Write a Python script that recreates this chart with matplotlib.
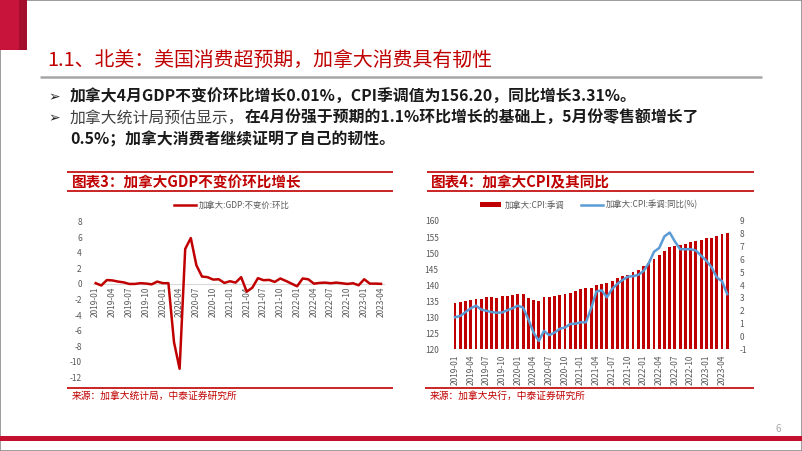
import matplotlib
matplotlib.use("Agg")
import matplotlib.pyplot as plt
from matplotlib.lines import Line2D
from matplotlib.patches import Rectangle

plt.rcParams['font.family'] = ['Noto Sans CJK SC', 'DejaVu Sans']
plt.rcParams['axes.unicode_minus'] = False

# ---------------- data ----------------
months_gdp = [f"{y}-{m:02d}" for y in range(2019, 2024) for m in range(1, 13)][:52]
months_cpi = [f"{y}-{m:02d}" for y in range(2019, 2024) for m in range(1, 13)][:53]
tick_labels = ['2019-01', '2019-04', '2019-07', '2019-10', '2020-01', '2020-04',
               '2020-07', '2020-10', '2021-01', '2021-04', '2021-07', '2021-10',
               '2022-01', '2022-04', '2022-07', '2022-10', '2023-01', '2023-04']

gdp_mom = [0.1, -0.2, 0.5, 0.45, 0.3, 0.2, 0.0, 0.0, 0.1, 0.05, -0.05, 0.3,
           0.1, 0.1, -7.5, -10.9, 4.5, 5.9, 2.4, 0.95, 0.87, 0.56, 0.6, 0.13,
           0.35, 0.17, 0.87, -1.0, -0.48, 0.74, 0.48, 0.52, 0.26, 0.7, 0.39, 0.04,
           -0.3, 0.7, 0.6, 0.04, 0.13, 0.17, 0.09, 0.17, 0.09, 0.0, 0.09, -0.17,
           0.6, 0.04, 0.04, 0.01]

cpi_sa = [134.3, 134.6, 135.1, 135.5, 135.8, 135.8, 136.3, 136.3, 136.1, 136.5, 136.6, 137.0,
          137.2, 137.2, 136.1, 135.4, 135.2, 136.4, 136.4, 136.6, 136.9, 137.2, 137.7, 138.1,
          138.7, 139.0, 139.2, 139.9, 140.3, 140.7, 141.4, 142.3, 142.8, 143.2, 144.0, 144.6,
          146.0, 147.0, 148.2, 149.5, 150.8, 151.9, 152.1, 152.4, 152.8, 153.5, 153.9, 154.0,
          154.6, 154.8, 155.2, 155.8, 156.2]

cpi_yoy = [1.5, 1.6, 1.9, 2.2, 2.4, 2.1, 2.0, 1.9, 1.85, 1.87, 2.05, 2.2,
           2.4, 2.25, 1.35, 0.3, -0.35, 0.43, 0.1, 0.3, 0.6, 0.7, 0.97, 1.0,
           1.1, 1.1, 2.2, 3.5, 3.6, 3.05, 3.7, 4.1, 4.4, 4.66, 4.7, 4.8,
           5.1, 5.7, 6.6, 6.9, 7.8, 8.1, 7.4, 6.8, 6.8, 6.8, 6.7, 6.3,
           5.9, 5.4, 4.6, 4.3, 3.3]

# ---------------- layout helpers ----------------
W, H = 802, 451
fig = plt.figure(figsize=(W / 100, H / 100), dpi=100)

def fx(x):
    return x / W

def fy(y):
    return 1 - y / H

def rect(x0, y0, x1, y1):
    return [fx(x0), fy(y1), (x1 - x0) / W, (y1 - y0) / H]

def hline(x0, x1, y, color, lw):
    fig.add_artist(Line2D([fx(x0), fx(x1)], [fy(y), fy(y)], transform=fig.transFigure,
                          color=color, lw=lw, solid_capstyle='butt'))

RED = '#C00000'
GRAY = '#595959'

# slide frame and decorations
fig.add_artist(Rectangle((0, 0), 1, 1, transform=fig.transFigure, fill=False,
                         ec='#8C8C8C', lw=1.2))
fig.add_artist(Rectangle((0, fy(50)), fx(19), 50 / H, transform=fig.transFigure,
                         color='#C8143A', lw=0))
fig.add_artist(Rectangle((fx(19), fy(50)), fx(8), 50 / H, transform=fig.transFigure,
                         color='#A30F2C', lw=0))
fig.add_artist(Rectangle((0, fy(441)), 1, 5 / H, transform=fig.transFigure,
                         color='#C3102F', lw=0))
fig.text(fx(778), fy(429), '6', color='#A6A6A6', fontsize=7, ha='center', va='center')

# title
fig.text(fx(47), fy(60), '1.1、北美：美国消费超预期，加拿大消费具有韧性', color=RED,
         fontsize=14.3, va='center', ha='left')
hline(40, 762, 77, '#A6A6A6', 1.8)

# bullets
BF = 11.4
for yb in (97, 118):
    fig.text(fx(48), fy(yb), '➢', family=['DejaVu Sans'], fontsize=10, va='center', color='#222222')
fig.text(fx(70), fy(97), '加拿大4月GDP不变价环比增长0.01%，CPI季调值为156.20，同比增长3.31%。',
         fontsize=BF, fontweight='bold', va='center', color='#1A1A1A')
t1 = fig.text(fx(70), fy(118), '加拿大统计局预估显示，', fontsize=BF, va='center', color='#404040')
fig.canvas.draw()
bb = t1.get_window_extent()
fig.text(bb.x1 / W, fy(118), '在4月份强于预期的1.1%环比增长的基础上，5月份零售额增长了',
         fontsize=BF, fontweight='bold', va='center', color='#1A1A1A')
fig.text(fx(70), fy(139), '0.5%；加拿大消费者继续证明了自己的韧性。',
         fontsize=BF, fontweight='bold', va='center', color='#1A1A1A')

# ---------------- chart 3: GDP ----------------
hline(67, 393, 172.3, RED, 1.2)
hline(67, 393, 191, RED, 1.2)
hline(67, 393, 388.3, RED, 1.2)
fig.text(fx(72), fy(182.5), '图表3：加拿大GDP不变价环比增长', color=RED, fontsize=10.5,
         fontweight='bold', va='center', ha='left')
fig.text(fx(72), fy(395.5), '来源：加拿大统计局，中泰证券研究所', color=RED, fontsize=7,
         va='center', ha='left')

ax1 = fig.add_axes(rect(90.1, 221.7, 386.6, 377.3))
for s in ('top', 'right', 'left'):
    ax1.spines[s].set_visible(False)
ax1.spines['bottom'].set_position(('data', 0))
ax1.spines['bottom'].set_color('#D9D9D9')
x_g = list(range(len(gdp_mom)))
ax1.plot(x_g, gdp_mom, color=RED, lw=1.8, label='加拿大:GDP:不变价:环比', zorder=3)
ax1.set_xlim(-1, 52)
ax1.set_ylim(-12, 8)
ax1.set_yticks(range(-12, 9, 2))
ax1.set_xticks([months_gdp.index(t) for t in tick_labels])
ax1.set_xticklabels(tick_labels, rotation=90, va='top')
ax1.spines['bottom'].set_bounds(-0.5, 51.5)
ax1.tick_params(axis='both', length=0, labelsize=6, labelcolor=GRAY)
ax1.tick_params(axis='x', pad=2)
ax1.tick_params(axis='y', pad=6)
ax1.patch.set_alpha(0)
ax1.legend(loc='center', bbox_to_anchor=(fx(232), fy(205)), bbox_transform=fig.transFigure,
           frameon=False, fontsize=6, labelcolor=GRAY, handlelength=2.6, handletextpad=0.4)

# ---------------- chart 4: CPI ----------------
hline(427, 754, 172.3, RED, 1.2)
hline(427, 754, 191, RED, 1.2)
hline(425, 754, 388.3, RED, 1.2)
fig.text(fx(431), fy(182.5), '图表4：加拿大CPI及其同比', color=RED, fontsize=10.5,
         fontweight='bold', va='center', ha='left')
fig.text(fx(430), fy(395.5), '来源：加拿大央行，中泰证券研究所', color=RED, fontsize=7,
         va='center', ha='left')

ax2 = fig.add_axes(rect(449.8, 221.0, 732.5, 349.3))
x_c = list(range(len(cpi_sa)))
ax2.bar(x_c, cpi_sa, width=0.55, bottom=0, color=RED, label='加拿大:CPI:季调', zorder=2)
ax2.set_xlim(-1, 53)
ax2.set_ylim(120, 160)
ax2.set_yticks(range(120, 161, 5))
ax2.set_xticks([months_cpi.index(t) for t in tick_labels])
ax2.set_xticklabels(tick_labels, rotation=90, va='top')
for s in ('top', 'right', 'left', 'bottom'):
    ax2.spines[s].set_visible(False)
ax2.tick_params(axis='both', length=0, labelsize=6, labelcolor=GRAY)
ax2.tick_params(axis='x', pad=4)
ax2.tick_params(axis='y', pad=8)

ax3 = ax2.twinx()
ax3.plot(x_c, cpi_yoy, color='#5B9BD5', lw=1.8, label='加拿大:CPI:季调:同比(%)', zorder=3)
ax3.set_ylim(-1, 9)
ax3.set_yticks(range(-1, 10, 1))
for s in ('top', 'right', 'left', 'bottom'):
    ax3.spines[s].set_visible(False)
ax3.tick_params(axis='y', length=0, labelsize=6, labelcolor=GRAY, pad=5)

h1, l1 = ax2.get_legend_handles_labels()
h2, l2 = ax3.get_legend_handles_labels()
ax3.legend(h1 + h2, l1 + l2, loc='center', ncol=2, bbox_to_anchor=(fx(589), fy(205)),
           bbox_transform=fig.transFigure, frameon=False, fontsize=6, labelcolor=GRAY,
           handlelength=2.6, handletextpad=0.4, columnspacing=2.0, handleheight=0.5)

fig.savefig('out.png', dpi=100)
